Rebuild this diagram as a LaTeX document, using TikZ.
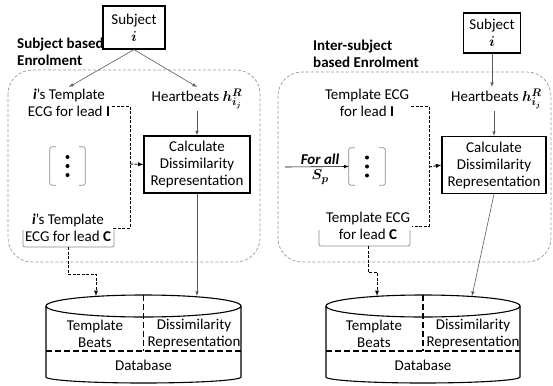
\documentclass[tikz,border=0pt]{standalone}
\usepackage{fontspec}
\setmainfont{Carlito}
\usepackage{bm}
\begin{document}
\begin{tikzpicture}[>=latex,x=1pt,y=-1pt,font=\fontsize{15}{17}\selectfont,
  box/.style={draw,line width=1.2pt,align=center,inner sep=2pt},
  txt/.style={align=center,inner sep=2pt},
  link/.style={draw=black!65,line width=0.6pt,->},
  dlink/.style={draw=black,line width=0.9pt,dash pattern=on 3pt off 1.5pt},
  panel/.style={draw=black!40,line width=0.7pt,dash pattern=on 3pt off 2pt,rounded corners=24pt},
  bracket/.style={draw=black!45,line width=0.7pt,rounded corners=2pt},
  dbline/.style={line width=1.1pt},
  dbsplit/.style={line width=1.1pt,dash pattern=on 6pt off 3pt}]
\useasboundingbox (0,0) rectangle (553,385);
%% subject based enrolment
\draw [panel] (8,70) rectangle (260,262);
\node (subjL) at (134,27.5) [box,minimum width=62pt,minimum height=43pt] {Subject\\$\bm{i}$};
\node (titleL) at (15,51.5) [txt,anchor=west,align=left,font=\fontsize{15}{17}\selectfont\bfseries] {Subject based\\Enrolment};
\node (leadIL) at (69,103) [txt] {\textbf{\textit{i}}'s Template\\ECG for lead \textbf{I}};
\node (hbL) at (197,99) [txt] {Heartbeats $\bm{h^{R}_{i_j}}$};
\node (calcL) at (197,164.5) [box,minimum width=106pt,minimum height=57pt] {Calculate\\Dissimilarity\\Representation};
\node (dotsL) at (67.5,166) [minimum width=35pt,minimum height=38pt] {};
\node (leadCL) at (68,228) [txt] {\textbf{\textit{i}}'s Template\\ECG for lead \textbf{C}};
\coordinate (jointL) at (130,164);
\coordinate (brkCL) at (68,247);
\coordinate (dbLa) at (96,296);
\coordinate (dbLb) at (197,296);
\foreach \dy in {-9,0,9} \fill (dotsL.center) ++(0,\dy) circle (2pt);
\draw [bracket] ([xshift=6pt]dotsL.north west) -- (dotsL.north west) -- (dotsL.south west) -- ([xshift=6pt]dotsL.south west);
\draw [bracket] ([xshift=-6pt]dotsL.north east) -- (dotsL.north east) -- (dotsL.south east) -- ([xshift=-6pt]dotsL.south east);
\draw [bracket] (23,230) |- (114,247) -- (114,230);
\draw [link] (subjL.south) -- (leadIL.north);
\draw [link] (subjL.south) -- (hbL.north);
\draw [link] (hbL.south) -- (calcL.north);
\draw [dlink] ([yshift=-3.5pt]leadIL.east) -| (jointL) |- (leadCL.east);
\draw [dlink,->] (jointL) -- (calcL.west);
\draw [dlink,->] (brkCL) -- ++(0,27) -| (dbLa);
\draw [link] (calcL.south) -- (dbLb);
% database
\draw [dbline] (143.5,306) ellipse [x radius=97.5pt,y radius=11pt];
\draw [dbline] (46,306) -- (46,377) arc [start angle=180,end angle=360,x radius=97.5pt,y radius=6pt] -- (241,306);
\draw [dbsplit] (143.5,295) -- (143.5,351);
\draw [dbsplit] (46,351) -- (241,351);
\node (tbL) at (95,334) [txt] {Template\\Beats};
\node (drL) at (194,334) [txt] {Dissimilarity\\Representation};
\node (dbL) at (143.5,365) [txt] {Database};
%% inter-subject based enrolment
\draw [panel] (278,72) rectangle (551,262);
\node (subjR) at (492,33) [box,minimum width=57pt,minimum height=40pt] {Subject\\$\bm{i}$};
\node (titleR) at (311,53.5) [txt,anchor=west,align=left,font=\fontsize{15}{17}\selectfont\bfseries] {Inter-subject\\based Enrolment};
\node (leadIR) at (367,103) [txt] {Template ECG\\for lead \textbf{I}};
\node (hbR) at (496.5,99) [txt] {Heartbeats $\bm{h^{R}_{i_j}}$};
\node (calcR) at (494,165) [box,minimum width=104pt,minimum height=57pt] {Calculate\\Dissimilarity\\Representation};
\node (dotsR) at (367,166.5) [minimum width=36pt,minimum height=37pt] {};
\node (leadCR) at (368,226) [txt] {Template ECG\\for lead \textbf{C}};
\coordinate (srcR) at (285,167);
\coordinate (jointR) at (429,167);
\coordinate (brkCR) at (368,246);
\coordinate (dbRa) at (377,296);
\coordinate (dbRb) at (472,296);
\foreach \dy in {-9,0,9} \fill (dotsR.center) ++(0,\dy) circle (2pt);
\draw [bracket] ([xshift=6pt]dotsR.north west) -- (dotsR.north west) -- (dotsR.south west) -- ([xshift=6pt]dotsR.south west);
\draw [bracket] ([xshift=-6pt]dotsR.north east) -- (dotsR.north east) -- (dotsR.south east) -- ([xshift=-6pt]dotsR.south east);
\draw [bracket] (319,230) |- (410,246) -- (410,230);
\draw [link] (subjR.south) -- (subjR.south |- hbR.north);
\draw [link] (calcR.north |- hbR.south) -- (calcR.north);
\draw [link,draw=black] (srcR) -- (dotsR.west) node [pos=0.55,above,inner sep=2pt] {\textbf{\textit{For all}}} node [pos=0.55,below,inner sep=3pt] {$\bm{S_p}$};
\draw [dlink] ([yshift=-3.5pt]leadIR.east) -| (jointR) |- (leadCR.east);
\draw [dlink,->] (jointR) -- (calcR.west);
\draw [dlink,->] (brkCR) -- ++(0,26) -| (dbRa);
\draw [link] (calcR.south) -- (dbRb);
% database
\draw [dbline] (423,306) ellipse [x radius=97pt,y radius=11pt];
\draw [dbline] (326,306) -- (326,377) arc [start angle=180,end angle=360,x radius=97pt,y radius=6pt] -- (520,306);
\draw [dbsplit] (423,295) -- (423,351);
\draw [dbsplit] (326,351) -- (520,351);
\node (tbR) at (374,334) [txt] {Template\\Beats};
\node (drR) at (473,334) [txt] {Dissimilarity\\Representation};
\node (dbR) at (423,365) [txt] {Database};
%
\end{tikzpicture}
\end{document}
